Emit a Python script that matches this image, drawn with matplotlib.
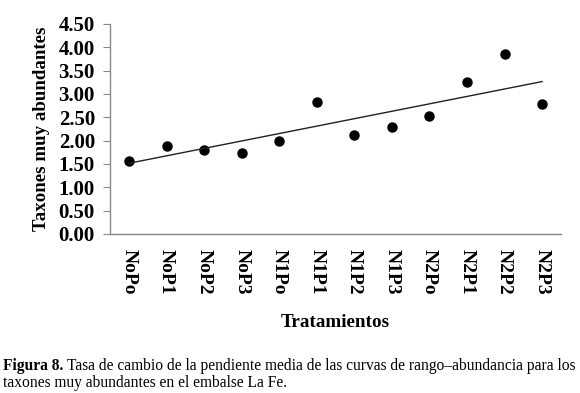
import numpy as np
import matplotlib
matplotlib.use("Agg")
from matplotlib import pyplot as plt

## Datos
tratamientos = ['NoPo', 'NoP1', 'NoP2', 'NoP3', 'N1Po', 'N1P1',
                'N1P2', 'N1P3', 'N2Po', 'N2P1', 'N2P2', 'N2P3']
taxones = [1.57, 1.89, 1.79, 1.74, 1.99, 2.83, 2.13, 2.30, 2.53, 3.26, 3.85, 2.79]
yticks = [0.0, 0.5, 1.0, 1.5, 2.0, 2.5, 3.0, 3.5, 4.0, 4.5]

plt.rcParams['font.family'] = 'Liberation Serif'

fig = plt.figure(figsize=(5.8, 3.93), dpi=100)
ax = fig.add_axes([0.19, 0.405, 0.777, 0.534])

x = np.arange(len(tratamientos))
ax.plot(x, taxones, 'o', color='black', markersize=6.5)

# linea de tendencia
m, b = np.polyfit(x, taxones, 1)
ax.plot(x, m * x + b, color='#222222', linewidth=1.0)

ax.set_xlim(-0.5, len(tratamientos) - 0.5)
ax.set_ylim(0, 4.5)
ax.set_yticks(yticks)
ax.set_yticklabels(['%.2f' % v for v in yticks], fontsize=15, fontweight='bold')
ax.set_xticks(x)
ax.set_xticklabels(tratamientos, rotation=-90, fontsize=14, fontweight='bold')
ax.tick_params(axis='x', length=0, pad=11)
ax.tick_params(axis='y', length=5, color='#888888', pad=6)

for s in ['top', 'right']:
    ax.spines[s].set_visible(False)
for s in ['left', 'bottom']:
    ax.spines[s].set_color('#888888')
    ax.spines[s].set_linewidth(1.0)

ax.set_ylabel('Taxones muy abundantes', fontsize=13.6, fontweight='bold', labelpad=6)
ax.set_xlabel('Tratamientos', fontsize=13.8, fontweight='bold', labelpad=14)

## Leyenda de la figura
y1 = 1 - 366 / 393.
y2 = 1 - 383 / 393.
t1 = fig.text(0.006, y1, 'Figura 8.', fontsize=11.2, va='center', fontweight='bold')
fig.canvas.draw()
bb = t1.get_window_extent(renderer=fig.canvas.get_renderer())
x2 = (bb.x1 + 3) / fig.bbox.width
fig.text(x2, y1, 'Tasa de cambio de la pendiente media de las curvas de rango\u2013abundancia para los',
         fontsize=11.2, va='center')
fig.text(0.006, y2, 'taxones muy abundantes en el embalse La Fe.', fontsize=11.2, va='center')

plt.savefig('out.png', dpi=100)
